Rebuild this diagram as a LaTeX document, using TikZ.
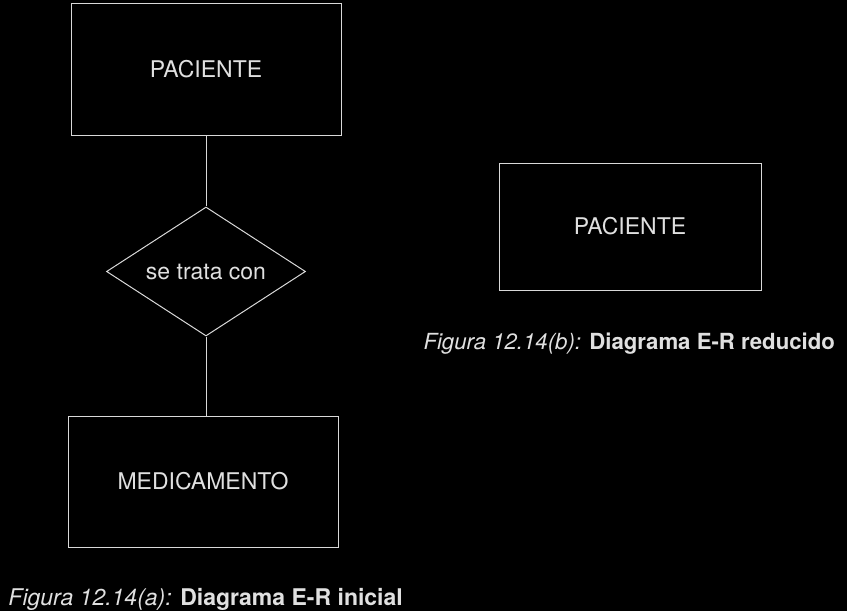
\documentclass[tikz,border=0pt]{standalone}
\usepackage{fontspec}
\setmainfont{TeX Gyre Heros}
\usetikzlibrary{shapes.geometric,positioning}

\definecolor{linegray}{gray}{0.85}
\definecolor{textgray}{gray}{0.88}

\begin{document}
\begin{tikzpicture}[x=0.5pt, y=-0.5pt, every node/.style={text centered, rectangle, draw=linegray, text=textgray, line width=0.5pt, font=\fontsize{11.5}{14}\selectfont}, entity/.style={minimum width=135pt, minimum height=66pt}, relation/.style={diamond, aspect=1.55, minimum width=99.5pt, minimum height=64.5pt, inner sep=0pt}, caption/.style={draw=none, anchor=west, inner sep=0pt}, node distance=35.5pt]
    \fill[black] (0,0) rectangle (847,611);
    \useasboundingbox (0,0) rectangle (847,611);

    % figura (a)
    \node[entity] (paciente) at (206,69) {PACIENTE};
    \node[relation, below=of paciente] (trata) {se trata con};
    \node[entity, below=39.5pt of trata, xshift=-1.5pt, minimum height=65.5pt] (medicamento) {MEDICAMENTO};
    \node[caption] (capa) at (8,599) {\textit{Figura 12.14(a):} \textbf{Diagrama E-R inicial}};

    \draw[linegray, line width=0.5pt] (paciente) -- (trata);
    \draw[linegray, line width=0.5pt] (trata) -- (trata |- medicamento.north);

    % figura (b)
    \node[entity, minimum width=131pt, minimum height=63.5pt] (pacienteb) at (630,226.5) {PACIENTE};
    \node[caption, font=\fontsize{11.1}{14}\selectfont] (capb) at (423,344) {\textit{Figura 12.14(b):} \textbf{Diagrama E-R reducido}};
\end{tikzpicture}
\end{document}
